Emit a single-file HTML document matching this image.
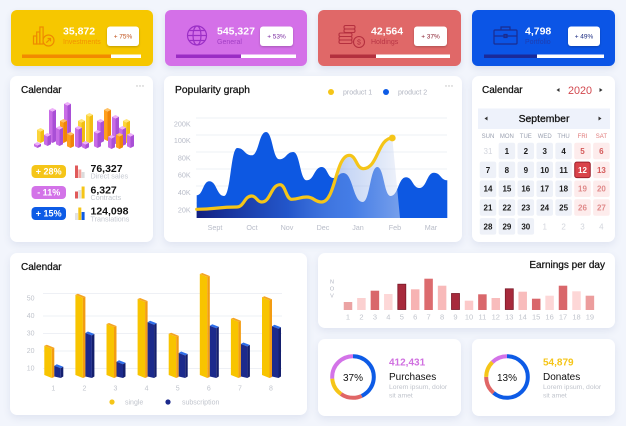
<!DOCTYPE html>
<html><head><meta charset="utf-8">
<style>
html,body{margin:0;padding:0;}
body{width:626px;height:426px;overflow:hidden;background:#f2f5fc;position:relative;font-family:"Liberation Sans",sans-serif;}
.c{position:absolute;background:#fff;border-radius:7px;box-shadow:0 3px 8px rgba(60,80,140,0.10);}
.t{position:absolute;border-radius:6px;box-shadow:0 3px 7px rgba(60,80,140,0.12);}
svg{position:absolute;left:0;top:0;}
</style></head><body>
<div class="t" style="left:11px;top:10px;width:142px;height:56px;background:#f6c700"></div>
<div class="t" style="left:165px;top:10px;width:142px;height:56px;background:#d470e8"></div>
<div class="t" style="left:318px;top:10px;width:143px;height:56px;background:#e06868"></div>
<div class="t" style="left:472px;top:10px;width:143px;height:56px;background:#0b55e6"></div>
<div class="c" style="left:10px;top:76px;width:143px;height:166px"></div>
<div class="c" style="left:164px;top:76px;width:298px;height:166px"></div>
<div class="c" style="left:472px;top:76px;width:143px;height:166px"></div>
<div class="c" style="left:10px;top:253px;width:297px;height:162px"></div>
<div class="c" style="left:318px;top:253px;width:297px;height:75px"></div>
<div class="c" style="left:318px;top:339px;width:143px;height:77px"></div>
<div class="c" style="left:472px;top:339px;width:143px;height:77px"></div>

<svg width="626" height="426" viewBox="0 0 626 426" style="font-family:'Liberation Sans',sans-serif">
<defs>
<filter id="sh" x="-30%" y="-30%" width="160%" height="180%"><feDropShadow dx="0" dy="1" stdDeviation="1" flood-color="#000" flood-opacity="0.22"/></filter>
<linearGradient id="ug" x1="196" y1="0" x2="400" y2="0" gradientUnits="userSpaceOnUse">
<stop offset="0" stop-color="#111c7c" stop-opacity="0.97"/>
<stop offset="0.45" stop-color="#2a55c2" stop-opacity="0.75"/>
<stop offset="0.75" stop-color="#86a8ea" stop-opacity="0.45"/>
<stop offset="1" stop-color="#dfe6f5" stop-opacity="0.5"/>
</linearGradient>
</defs>

<!-- ===== TOP CARDS ===== -->
<!-- card1 -->
<g fill="none" stroke="#ee8a00" stroke-width="1.2">
<rect x="33.5" y="36" width="3.2" height="8"/><rect x="36.7" y="32" width="3.2" height="12"/><rect x="39.9" y="27" width="3.2" height="17"/>
<circle cx="48.5" cy="40.5" r="5.5" fill="#f6c700"/>
<path d="M46.3,42.7 L50.5,38.5 M47.6,38.5 H50.5 V41.4"/>
</g>
<text x="63" y="34.5" font-size="10.5" font-weight="bold" fill="#fff">35,872</text>
<text x="63" y="44" font-size="7" fill="#f39200">Investments</text>
<rect x="107" y="26.5" width="32" height="19.5" rx="3" fill="#fff" filter="url(#sh)"/>
<text x="123" y="38.6" font-size="6.5" fill="#c0501a" text-anchor="middle">+ 75%</text>
<rect x="22" y="54.5" width="119" height="3.5" fill="#fff"/><rect x="22" y="54.5" width="89" height="3.5" fill="#f28a00"/>

<!-- card2 -->
<g fill="none" stroke="#9b2fc6" stroke-width="1.2">
<circle cx="197" cy="35.5" r="9.5"/><ellipse cx="197" cy="35.5" rx="4" ry="9.5"/>
<path d="M187.5,35.5 H206.5 M189.5,30.5 H204.5 M189.5,40.5 H204.5"/>
</g>
<text x="217" y="34.5" font-size="10.5" font-weight="bold" fill="#fff">545,327</text>
<text x="217" y="44" font-size="7" fill="#a23fc4">General</text>
<rect x="260" y="26.5" width="33" height="19.5" rx="3" fill="#fff" filter="url(#sh)"/>
<text x="276.5" y="38.6" font-size="6.5" fill="#7a2aa0" text-anchor="middle">+ 53%</text>
<rect x="176" y="54.5" width="120" height="3.5" fill="#fff"/><rect x="176" y="54.5" width="65" height="3.5" fill="#9a2cc4"/>

<!-- card3 -->
<g fill="none" stroke="#b5303f" stroke-width="1.1">
<rect x="344" y="25.5" width="11" height="3.5" rx="1.5"/><rect x="344" y="29" width="11" height="3.5" rx="1.5"/>
<rect x="339" y="33" width="13" height="3.5" rx="1.5"/><rect x="339" y="36.5" width="13" height="3.5" rx="1.5"/><rect x="339" y="40" width="13" height="3.5" rx="1.5"/>
<circle cx="359" cy="42" r="5.5" fill="#e06868"/>
</g>
<text x="359" y="44.6" font-size="7" fill="#b5303f" text-anchor="middle">$</text>
<text x="371" y="34.5" font-size="10.5" font-weight="bold" fill="#fff">42,564</text>
<text x="371" y="44" font-size="7" fill="#b83545">Holdings</text>
<rect x="414" y="26.5" width="33" height="19.5" rx="3" fill="#fff" filter="url(#sh)"/>
<text x="430.5" y="38.6" font-size="6.5" fill="#8a2030" text-anchor="middle">+ 37%</text>
<rect x="330" y="54.5" width="120" height="3.5" fill="#fff"/><rect x="330" y="54.5" width="46" height="3.5" fill="#b3303e"/>

<!-- card4 -->
<g fill="none" stroke="#1b2c8f" stroke-width="1.2">
<rect x="494" y="30" width="23" height="14" rx="1"/><path d="M501,30 V27 H510 V30 M494,36 H517"/>
<rect x="504" y="34.5" width="3" height="3"/>
</g>
<text x="525" y="34.5" font-size="10.5" font-weight="bold" fill="#fff">4,798</text>
<text x="525" y="44" font-size="7" fill="#1f3eb0">Portfolio</text>
<rect x="568" y="26.5" width="32" height="19.5" rx="3" fill="#fff" filter="url(#sh)"/>
<text x="584" y="38.6" font-size="6.5" fill="#1a2a80" text-anchor="middle">+ 49%</text>
<rect x="484" y="54.5" width="120" height="3.5" fill="#fff"/><rect x="484" y="54.5" width="53" height="3.5" fill="#1a2a9a"/>

<!-- ===== LEFT MIDDLE CARD ===== -->
<text x="21" y="93" font-size="10" fill="#111" stroke="#111" stroke-width="0.25">Calendar</text>
<g fill="#bbb"><circle cx="137" cy="86" r="0.7"/><circle cx="140" cy="86" r="0.7"/><circle cx="143" cy="86" r="0.7"/></g>

<!-- 3D cluster -->
<g>
<g transform="translate(64,102)"><polygon points="0,1.75 3.5,3.5 3.5,37 0,35.25" fill="#c86ce6"/><polygon points="3.5,3.5 7,1.75 7,35.25 3.5,37" fill="#a94fd6"/><polygon points="0,1.75 3.5,0 7,1.75 3.5,3.5" fill="#eeb0fa"/></g>
<g transform="translate(104,108)"><polygon points="0,1.75 3.5,3.5 3.5,33 0,31.25" fill="#ff9f1c"/><polygon points="3.5,3.5 7,1.75 7,31.25 3.5,33" fill="#f0850a"/><polygon points="0,1.75 3.5,0 7,1.75 3.5,3.5" fill="#ffc266"/></g>
<g transform="translate(37,128)"><polygon points="0,1.75 3.5,3.5 3.5,15 0,13.25" fill="#fbd43a"/><polygon points="3.5,3.5 7,1.75 7,13.25 3.5,15" fill="#f2bd12"/><polygon points="0,1.75 3.5,0 7,1.75 3.5,3.5" fill="#ffe57a"/></g>
<g transform="translate(49,108)"><polygon points="0,1.75 3.5,3.5 3.5,35 0,33.25" fill="#c86ce6"/><polygon points="3.5,3.5 7,1.75 7,33.25 3.5,35" fill="#a94fd6"/><polygon points="0,1.75 3.5,0 7,1.75 3.5,3.5" fill="#eeb0fa"/></g>
<g transform="translate(60,119)"><polygon points="0,1.75 3.5,3.5 3.5,24 0,22.25" fill="#ff9f1c"/><polygon points="3.5,3.5 7,1.75 7,22.25 3.5,24" fill="#f0850a"/><polygon points="0,1.75 3.5,0 7,1.75 3.5,3.5" fill="#ffc266"/></g>
<g transform="translate(78,119)"><polygon points="0,1.75 3.5,3.5 3.5,24 0,22.25" fill="#fbd43a"/><polygon points="3.5,3.5 7,1.75 7,22.25 3.5,24" fill="#f2bd12"/><polygon points="0,1.75 3.5,0 7,1.75 3.5,3.5" fill="#ffe57a"/></g>
<g transform="translate(86,113)"><polygon points="0,1.75 3.5,3.5 3.5,30 0,28.25" fill="#fbd43a"/><polygon points="3.5,3.5 7,1.75 7,28.25 3.5,30" fill="#f2bd12"/><polygon points="0,1.75 3.5,0 7,1.75 3.5,3.5" fill="#ffe57a"/></g>
<g transform="translate(97,119)"><polygon points="0,1.75 3.5,3.5 3.5,24 0,22.25" fill="#c86ce6"/><polygon points="3.5,3.5 7,1.75 7,22.25 3.5,24" fill="#a94fd6"/><polygon points="0,1.75 3.5,0 7,1.75 3.5,3.5" fill="#eeb0fa"/></g>
<g transform="translate(123,119)"><polygon points="0,1.75 3.5,3.5 3.5,24 0,22.25" fill="#fbd43a"/><polygon points="3.5,3.5 7,1.75 7,22.25 3.5,24" fill="#f2bd12"/><polygon points="0,1.75 3.5,0 7,1.75 3.5,3.5" fill="#ffe57a"/></g>
<g transform="translate(112,115)"><polygon points="0,1.75 3.5,3.5 3.5,29 0,27.25" fill="#c86ce6"/><polygon points="3.5,3.5 7,1.75 7,27.25 3.5,29" fill="#a94fd6"/><polygon points="0,1.75 3.5,0 7,1.75 3.5,3.5" fill="#eeb0fa"/></g>
<g transform="translate(44,133)"><polygon points="0,1.75 3.5,3.5 3.5,13 0,11.25" fill="#c86ce6"/><polygon points="3.5,3.5 7,1.75 7,11.25 3.5,13" fill="#a94fd6"/><polygon points="0,1.75 3.5,0 7,1.75 3.5,3.5" fill="#eeb0fa"/></g>
<g transform="translate(56,126)"><polygon points="0,1.75 3.5,3.5 3.5,20 0,18.25" fill="#c86ce6"/><polygon points="3.5,3.5 7,1.75 7,18.25 3.5,20" fill="#a94fd6"/><polygon points="0,1.75 3.5,0 7,1.75 3.5,3.5" fill="#eeb0fa"/></g>
<g transform="translate(119,126)"><polygon points="0,1.75 3.5,3.5 3.5,20 0,18.25" fill="#c86ce6"/><polygon points="3.5,3.5 7,1.75 7,18.25 3.5,20" fill="#a94fd6"/><polygon points="0,1.75 3.5,0 7,1.75 3.5,3.5" fill="#eeb0fa"/></g>
<g transform="translate(34,142)"><polygon points="0,1.75 3.5,3.5 3.5,6 0,4.25" fill="#c86ce6"/><polygon points="3.5,3.5 7,1.75 7,4.25 3.5,6" fill="#a94fd6"/><polygon points="0,1.75 3.5,0 7,1.75 3.5,3.5" fill="#eeb0fa"/></g>
<g transform="translate(67,132)"><polygon points="0,1.75 3.5,3.5 3.5,16 0,14.25" fill="#ff9f1c"/><polygon points="3.5,3.5 7,1.75 7,14.25 3.5,16" fill="#f0850a"/><polygon points="0,1.75 3.5,0 7,1.75 3.5,3.5" fill="#ffc266"/></g>
<g transform="translate(75,126)"><polygon points="0,1.75 3.5,3.5 3.5,22 0,20.25" fill="#c86ce6"/><polygon points="3.5,3.5 7,1.75 7,20.25 3.5,22" fill="#a94fd6"/><polygon points="0,1.75 3.5,0 7,1.75 3.5,3.5" fill="#eeb0fa"/></g>
<g transform="translate(94,130)"><polygon points="0,1.75 3.5,3.5 3.5,18 0,16.25" fill="#c86ce6"/><polygon points="3.5,3.5 7,1.75 7,16.25 3.5,18" fill="#a94fd6"/><polygon points="0,1.75 3.5,0 7,1.75 3.5,3.5" fill="#eeb0fa"/></g>
<g transform="translate(127,133)"><polygon points="0,1.75 3.5,3.5 3.5,15 0,13.25" fill="#c86ce6"/><polygon points="3.5,3.5 7,1.75 7,13.25 3.5,15" fill="#a94fd6"/><polygon points="0,1.75 3.5,0 7,1.75 3.5,3.5" fill="#eeb0fa"/></g>
<g transform="translate(82,141)"><polygon points="0,1.75 3.5,3.5 3.5,8 0,6.25" fill="#c86ce6"/><polygon points="3.5,3.5 7,1.75 7,6.25 3.5,8" fill="#a94fd6"/><polygon points="0,1.75 3.5,0 7,1.75 3.5,3.5" fill="#eeb0fa"/></g>
<g transform="translate(108,135)"><polygon points="0,1.75 3.5,3.5 3.5,14 0,12.25" fill="#c86ce6"/><polygon points="3.5,3.5 7,1.75 7,12.25 3.5,14" fill="#a94fd6"/><polygon points="0,1.75 3.5,0 7,1.75 3.5,3.5" fill="#eeb0fa"/></g>
<g transform="translate(116,133)"><polygon points="0,1.75 3.5,3.5 3.5,16 0,14.25" fill="#ff9f1c"/><polygon points="3.5,3.5 7,1.75 7,14.25 3.5,16" fill="#f0850a"/><polygon points="0,1.75 3.5,0 7,1.75 3.5,3.5" fill="#ffc266"/></g>
</g>

<!-- stats -->
<rect x="31.5" y="165" width="34.5" height="13" rx="4" fill="#f5c518"/>
<text x="48.7" y="174.6" font-size="9" font-weight="bold" fill="#fff" text-anchor="middle">+ 28%</text>
<rect x="31.5" y="186" width="34.5" height="13" rx="4" fill="#d373e8"/>
<text x="48.7" y="195.6" font-size="9" font-weight="bold" fill="#fff" text-anchor="middle">- 11%</text>
<rect x="31.5" y="207" width="34.5" height="13" rx="4" fill="#0d5be6"/>
<text x="48.7" y="216.6" font-size="9" font-weight="bold" fill="#fff" text-anchor="middle">+ 15%</text>

<rect x="75" y="165.5" width="3" height="12.5" fill="#e05a5a"/><rect x="78.3" y="169.5" width="3" height="8.5" fill="#f4a6a0"/><rect x="81.6" y="172" width="3" height="6" fill="#dcdcdc"/>
<rect x="75" y="191.5" width="3" height="7" fill="#e05a5a"/><rect x="78.3" y="190" width="3" height="8.5" fill="#e2e2e2"/><rect x="81.6" y="186.5" width="3" height="12" fill="#f5c518"/>
<rect x="75" y="213" width="3" height="7" fill="#e2e2e2"/><rect x="78.3" y="207.5" width="3" height="12.5" fill="#f5c518"/><rect x="81.6" y="212" width="3" height="8" fill="#0d5be6"/>

<text x="90.5" y="172" font-size="10.5" font-weight="bold" fill="#111">76,327</text>
<text x="90.5" y="178.6" font-size="7.2" fill="#c4c8d0">Direct sales</text>
<text x="90.5" y="193.7" font-size="10.5" font-weight="bold" fill="#111">6,327</text>
<text x="90.5" y="200.2" font-size="7.2" fill="#c4c8d0">Contracts</text>
<text x="90.5" y="214.7" font-size="10.5" font-weight="bold" fill="#111">124,098</text>
<text x="90.5" y="221.4" font-size="7.2" fill="#c4c8d0">Translations</text>

<!-- ===== POPULARITY GRAPH ===== -->
<text x="175" y="93" font-size="10.3" fill="#111" stroke="#111" stroke-width="0.25">Popularity graph</text>
<circle cx="331" cy="92" r="3" fill="#f5c518"/>
<text x="343" y="94.5" font-size="7" fill="#b0b4c0">product 1</text>
<circle cx="386" cy="92" r="3" fill="#0d5be6"/>
<text x="398" y="94.5" font-size="7" fill="#b0b4c0">product 2</text>
<g fill="#bbb"><circle cx="446" cy="86" r="0.7"/><circle cx="449" cy="86" r="0.7"/><circle cx="452" cy="86" r="0.7"/></g>

<g stroke="#eef0f5" stroke-width="1">
<line x1="196" y1="118" x2="447" y2="118"/><line x1="196" y1="135" x2="447" y2="135"/>
<line x1="196" y1="152" x2="447" y2="152"/><line x1="196" y1="169" x2="447" y2="169"/>
<line x1="196" y1="186" x2="447" y2="186"/><line x1="196" y1="203" x2="447" y2="203"/>
</g>
<g font-size="7.2" fill="#b8bcc8" text-anchor="end">
<text x="190.7" y="126.5">200K</text><text x="190.7" y="143">100K</text><text x="190.7" y="160.5">80K</text>
<text x="190.7" y="177.5">60K</text><text x="190.7" y="194.8">40K</text><text x="190.7" y="212.5">20K</text>
</g>
<g font-size="7.2" fill="#b8bcc8" text-anchor="middle">
<text x="215" y="230">Sept</text><text x="252" y="230">Oct</text><text x="287" y="230">Nov</text>
<text x="323" y="230">Dec</text><text x="358" y="230">Jan</text><text x="395" y="230">Feb</text><text x="431" y="230">Mar</text>
</g>

<path d="M196.7,218 L196.7,195.3 C203,195.3 203,181.3 209.3,181.3 C216.7,181.3 216.7,196 224,196 C230.7,196 230.7,148 237.3,148 C244.5,148 244.5,155.3 251.7,155.3 C258.8,155.3 258.8,132 266,132 C272.7,132 272.7,159.3 279.3,159.3 C286.3,159.3 286.3,152 293.3,152 C300,152 300,180.3 306.7,180.3 C314.2,180.3 314.2,167 321.7,167 C327.5,167 327.5,178 333.3,178 C338.3,178 338.3,173 343.3,173 C353,173 353,202 362.7,202 C370,202 370,167 377.3,167 C384,167 384,196 390.7,196 C398.3,196 398.3,177.3 406,177.3 C412.7,177.3 412.7,188 419.3,188 C426.7,188 426.7,172.7 434,172.7 C440.7,172.7 440.7,180.3 447.3,180.3 L447.3,218 Z" fill="#0d58e2"/>
<path d="M196.7,209.3 C216.7,209.3 216.7,207 236.7,207 C244.2,207 244.2,196 251.7,196 C256.7,196 256.7,202 261.7,202 C270.8,202 270.8,184.7 280,184.7 C285.8,184.7 285.8,199.3 291.7,199.3 C299.2,199.3 299.2,197 306.7,197 C314.2,197 314.2,202 321.7,202 C335.5,202 335.5,155.3 349.3,155.3 C356.3,155.3 356.3,168.7 363.3,168.7 C377.8,168.7 377.8,138 392.3,138 L400,218 L196.7,218 Z" fill="url(#ug)"/>
<path d="M196.7,209.3 C216.7,209.3 216.7,207 236.7,207 C244.2,207 244.2,196 251.7,196 C256.7,196 256.7,202 261.7,202 C270.8,202 270.8,184.7 280,184.7 C285.8,184.7 285.8,199.3 291.7,199.3 C299.2,199.3 299.2,197 306.7,197 C314.2,197 314.2,202 321.7,202 C335.5,202 335.5,155.3 349.3,155.3 C356.3,155.3 356.3,168.7 363.3,168.7 C377.8,168.7 377.8,138 392.3,138" fill="none" stroke="#f5c518" stroke-width="3.2" stroke-linecap="round"/>
<circle cx="392.3" cy="138" r="3.4" fill="#f5c518"/>

<!-- ===== RIGHT CALENDAR ===== -->
<text x="482" y="93" font-size="10" fill="#111" stroke="#111" stroke-width="0.25">Calendar</text>
<polygon points="556.5,90 559.5,88 559.5,92" fill="#333"/>
<text x="568" y="94" font-size="10.8" fill="#d2484e">2020</text>
<polygon points="602.5,90 599.5,88 599.5,92" fill="#333"/>
<rect x="478" y="108.5" width="132" height="20.5" fill="#eef2fb"/>
<polygon points="484.5,118.5 487.5,116.5 487.5,120.5" fill="#333"/>
<polygon points="601.5,118.5 598.5,116.5 598.5,120.5" fill="#333"/>
<text x="544" y="122" font-size="10.4" fill="#111" stroke="#111" stroke-width="0.3" text-anchor="middle">September</text>
<g font-size="6" fill="#9aa0b0" text-anchor="middle">
<text x="488" y="138">SUN</text><text x="506.9" y="138">MON</text><text x="525.8" y="138">TUE</text><text x="544.7" y="138">WED</text><text x="563.6" y="138">THU</text>
<text x="582.5" y="138" fill="#e07a7a">FRI</text><text x="601.4" y="138" fill="#e07a7a">SAT</text>
</g>
<g fill="#eef1f8">
<rect x="498.65" y="142.75" width="16.5" height="16.5" rx="2"/><rect x="517.55" y="142.75" width="16.5" height="16.5" rx="2"/><rect x="536.45" y="142.75" width="16.5" height="16.5" rx="2"/><rect x="555.35" y="142.75" width="16.5" height="16.5" rx="2"/>
<rect x="479.75" y="161.6" width="16.5" height="16.5" rx="2"/><rect x="498.65" y="161.6" width="16.5" height="16.5" rx="2"/><rect x="517.55" y="161.6" width="16.5" height="16.5" rx="2"/><rect x="536.45" y="161.6" width="16.5" height="16.5" rx="2"/><rect x="555.35" y="161.6" width="16.5" height="16.5" rx="2"/>
<rect x="479.75" y="180.45" width="16.5" height="16.5" rx="2"/><rect x="498.65" y="180.45" width="16.5" height="16.5" rx="2"/><rect x="517.55" y="180.45" width="16.5" height="16.5" rx="2"/><rect x="536.45" y="180.45" width="16.5" height="16.5" rx="2"/><rect x="555.35" y="180.45" width="16.5" height="16.5" rx="2"/>
<rect x="479.75" y="199.3" width="16.5" height="16.5" rx="2"/><rect x="498.65" y="199.3" width="16.5" height="16.5" rx="2"/><rect x="517.55" y="199.3" width="16.5" height="16.5" rx="2"/><rect x="536.45" y="199.3" width="16.5" height="16.5" rx="2"/><rect x="555.35" y="199.3" width="16.5" height="16.5" rx="2"/>
<rect x="479.75" y="218.15" width="16.5" height="16.5" rx="2"/><rect x="498.65" y="218.15" width="16.5" height="16.5" rx="2"/><rect x="517.55" y="218.15" width="16.5" height="16.5" rx="2"/>
</g>
<g fill="#fdecec">
<rect x="574.25" y="142.75" width="16.5" height="16.5" rx="2"/><rect x="593.15" y="142.75" width="16.5" height="16.5" rx="2"/>
<rect x="593.15" y="161.6" width="16.5" height="16.5" rx="2"/>
<rect x="574.25" y="180.45" width="16.5" height="16.5" rx="2"/><rect x="593.15" y="180.45" width="16.5" height="16.5" rx="2"/>
<rect x="574.25" y="199.3" width="16.5" height="16.5" rx="2"/><rect x="593.15" y="199.3" width="16.5" height="16.5" rx="2"/>
</g>
<rect x="574.75" y="162.1" width="15.5" height="15.5" rx="2" fill="#d9434a" stroke="#9c1f2b" stroke-width="1"/>
<g font-size="8" font-weight="bold" fill="#1a1a1a" text-anchor="middle">
<text x="488" y="153.9" fill="#d3d6dd" font-weight="normal">31</text><text x="506.9" y="153.9">1</text><text x="525.8" y="153.9">2</text><text x="544.7" y="153.9">3</text><text x="563.6" y="153.9">4</text><text x="582.5" y="153.9" fill="#d45a5a">5</text><text x="601.4" y="153.9" fill="#d45a5a">6</text>
<text x="488" y="172.75">7</text><text x="506.9" y="172.75">8</text><text x="525.8" y="172.75">9</text><text x="544.7" y="172.75">10</text><text x="563.6" y="172.75">11</text><text x="582.5" y="172.75" fill="#fff">12</text><text x="601.4" y="172.75" fill="#d45a5a">13</text>
<text x="488" y="191.6">14</text><text x="506.9" y="191.6">15</text><text x="525.8" y="191.6">16</text><text x="544.7" y="191.6">17</text><text x="563.6" y="191.6">18</text><text x="582.5" y="191.6" fill="#e08a8a">19</text><text x="601.4" y="191.6" fill="#e08a8a">20</text>
<text x="488" y="210.45">21</text><text x="506.9" y="210.45">22</text><text x="525.8" y="210.45">23</text><text x="544.7" y="210.45">24</text><text x="563.6" y="210.45">25</text><text x="582.5" y="210.45" fill="#e08a8a">26</text><text x="601.4" y="210.45" fill="#e08a8a">27</text>
<text x="488" y="229.3">28</text><text x="506.9" y="229.3">29</text><text x="525.8" y="229.3">30</text>
<text x="544.7" y="229.3" fill="#d3d6dd" font-weight="normal">1</text><text x="563.6" y="229.3" fill="#d3d6dd" font-weight="normal">2</text><text x="582.5" y="229.3" fill="#d3d6dd" font-weight="normal">3</text><text x="601.4" y="229.3" fill="#d3d6dd" font-weight="normal">4</text>
</g>

<!-- ===== BOTTOM LEFT BAR CHART ===== -->
<text x="21" y="270" font-size="10" fill="#111" stroke="#111" stroke-width="0.25">Calendar</text>
<g stroke="#eef0f5" stroke-width="1">
<line x1="43" y1="293.5" x2="282" y2="293.5"/><line x1="43" y1="316" x2="282" y2="316"/><line x1="43" y1="333.5" x2="282" y2="333.5"/>
<line x1="43" y1="351" x2="282" y2="351"/><line x1="43" y1="368.5" x2="282" y2="368.5"/>
</g>
<g font-size="7" fill="#c0c4cc" text-anchor="end">
<text x="34.5" y="300.5">50</text><text x="34.5" y="318.2">40</text><text x="34.5" y="335.5">30</text><text x="34.5" y="353.2">20</text><text x="34.5" y="370.5">10</text>
</g>
<g font-size="7" fill="#c0c4cc" text-anchor="middle">
<text x="53.3" y="390.5">1</text><text x="84.4" y="390.5">2</text><text x="115.5" y="390.5">3</text><text x="146.6" y="390.5">4</text>
<text x="177.7" y="390.5">5</text><text x="208.8" y="390.5">6</text><text x="239.9" y="390.5">7</text><text x="271" y="390.5">8</text>
</g>
<!-- bars: group translate(c,0) -->
<g transform="translate(53.3,0)">
<polygon points="-9,345.7 -1.5,348.7 -1.5,378 -9,375" fill="#f8c400"/><polygon points="-1.5,348.7 1,347.7 1,377 -1.5,378" fill="#f39c12"/><polygon points="-9,345.7 -6.5,344.7 1,347.7 -1.5,348.7" fill="#f5a623"/>
<polygon points="1,365.7 3.5,364.2 10,366.7 7.5,368.2" fill="#2f6fea"/><polygon points="1,365.7 7.5,368.2 7.5,378 1,376.5" fill="#1c2a8c"/><polygon points="7.5,368.2 10,366.7 10,376.5 7.5,378" fill="#141f6e"/>
</g>
<g transform="translate(84.4,0)">
<polygon points="-9,294.7 -1.5,297.7 -1.5,378 -9,375" fill="#f8c400"/><polygon points="-1.5,297.7 1,296.7 1,377 -1.5,378" fill="#f39c12"/><polygon points="-9,294.7 -6.5,293.7 1,296.7 -1.5,297.7" fill="#f5a623"/>
<polygon points="1,333 3.5,331.5 10,334 7.5,335.5" fill="#2f6fea"/><polygon points="1,333 7.5,335.5 7.5,378 1,376.5" fill="#1c2a8c"/><polygon points="7.5,335.5 10,334 10,376.5 7.5,378" fill="#141f6e"/>
</g>
<g transform="translate(115.5,0)">
<polygon points="-9,324 -1.5,327 -1.5,378 -9,375" fill="#f8c400"/><polygon points="-1.5,327 1,326 1,377 -1.5,378" fill="#f39c12"/><polygon points="-9,324 -6.5,323 1,326 -1.5,327" fill="#f5a623"/>
<polygon points="1,361.7 3.5,360.2 10,362.7 7.5,364.2" fill="#2f6fea"/><polygon points="1,361.7 7.5,364.2 7.5,378 1,376.5" fill="#1c2a8c"/><polygon points="7.5,364.2 10,362.7 10,376.5 7.5,378" fill="#141f6e"/>
</g>
<g transform="translate(146.6,0)">
<polygon points="-9,299 -1.5,302 -1.5,378 -9,375" fill="#f8c400"/><polygon points="-1.5,302 1,301 1,377 -1.5,378" fill="#f39c12"/><polygon points="-9,299 -6.5,298 1,301 -1.5,302" fill="#f5a623"/>
<polygon points="1,322.3 3.5,320.8 10,323.3 7.5,324.8" fill="#2f6fea"/><polygon points="1,322.3 7.5,324.8 7.5,378 1,376.5" fill="#1c2a8c"/><polygon points="7.5,324.8 10,323.3 10,376.5 7.5,378" fill="#141f6e"/>
</g>
<g transform="translate(177.7,0)">
<polygon points="-9,333.7 -1.5,336.7 -1.5,378 -9,375" fill="#f8c400"/><polygon points="-1.5,336.7 1,335.7 1,377 -1.5,378" fill="#f39c12"/><polygon points="-9,333.7 -6.5,332.7 1,335.7 -1.5,336.7" fill="#f5a623"/>
<polygon points="1,353 3.5,351.5 10,354 7.5,355.5" fill="#2f6fea"/><polygon points="1,353 7.5,355.5 7.5,378 1,376.5" fill="#1c2a8c"/><polygon points="7.5,355.5 10,354 10,376.5 7.5,378" fill="#141f6e"/>
</g>
<g transform="translate(208.8,0)">
<polygon points="-9,274 -1.5,277 -1.5,378 -9,375" fill="#f8c400"/><polygon points="-1.5,277 1,276 1,377 -1.5,378" fill="#f39c12"/><polygon points="-9,274 -6.5,273 1,276 -1.5,277" fill="#f5a623"/>
<polygon points="1,325.7 3.5,324.2 10,326.7 7.5,328.2" fill="#2f6fea"/><polygon points="1,325.7 7.5,328.2 7.5,378 1,376.5" fill="#1c2a8c"/><polygon points="7.5,328.2 10,326.7 10,376.5 7.5,378" fill="#141f6e"/>
</g>
<g transform="translate(239.9,0)">
<polygon points="-9,318.7 -1.5,321.7 -1.5,378 -9,375" fill="#f8c400"/><polygon points="-1.5,321.7 1,320.7 1,377 -1.5,378" fill="#f39c12"/><polygon points="-9,318.7 -6.5,317.7 1,320.7 -1.5,321.7" fill="#f5a623"/>
<polygon points="1,344 3.5,342.5 10,345 7.5,346.5" fill="#2f6fea"/><polygon points="1,344 7.5,346.5 7.5,378 1,376.5" fill="#1c2a8c"/><polygon points="7.5,346.5 10,345 10,376.5 7.5,378" fill="#141f6e"/>
</g>
<g transform="translate(271,0)">
<polygon points="-9,297.3 -1.5,300.3 -1.5,378 -9,375" fill="#f8c400"/><polygon points="-1.5,300.3 1,299.3 1,377 -1.5,378" fill="#f39c12"/><polygon points="-9,297.3 -6.5,296.3 1,299.3 -1.5,300.3" fill="#f5a623"/>
<polygon points="1,326.3 3.5,324.8 10,327.3 7.5,328.8" fill="#2f6fea"/><polygon points="1,326.3 7.5,328.8 7.5,378 1,376.5" fill="#1c2a8c"/><polygon points="7.5,328.8 10,327.3 10,376.5 7.5,378" fill="#141f6e"/>
</g>
<circle cx="112" cy="402" r="2.6" fill="#f5c518"/>
<text x="125" y="404.6" font-size="7" fill="#c0c4cc">single</text>
<circle cx="168" cy="402" r="2.6" fill="#1c2a8c"/>
<text x="182" y="404.6" font-size="7" fill="#c0c4cc">subscription</text>

<!-- ===== EARNINGS ===== -->
<text x="605" y="268" font-size="10" fill="#111" stroke="#111" stroke-width="0.25" text-anchor="end">Earnings per day</text>
<g font-size="5.5" fill="#b0b4c0" text-anchor="middle">
<text x="332" y="283.7">N</text><text x="332" y="290.5">O</text><text x="332" y="297.5">V</text>
</g>
<g>
<rect x="343.75" y="302" width="8.5" height="8" fill="#eba3a3"/>
<rect x="357.15" y="298" width="8.5" height="12" fill="#fbd0d0"/>
<rect x="370.65" y="290.7" width="8.5" height="19.3" fill="#d9676b"/>
<rect x="384.05" y="294" width="8.5" height="16" fill="#fdd7d7"/>
<rect x="397.8" y="284.2" width="8" height="25.3" fill="#a72a3c" stroke="#7a1a28" stroke-width="0.8"/>
<rect x="410.95" y="289.3" width="8.5" height="20.7" fill="#f7b3b3"/>
<rect x="424.35" y="278.7" width="8.5" height="31.3" fill="#dc6b6e"/>
<rect x="437.85" y="285.7" width="8.5" height="24.3" fill="#f8b9b9"/>
<rect x="451.5" y="293.5" width="8" height="16" fill="#a72a3c" stroke="#7a1a28" stroke-width="0.8"/>
<rect x="464.75" y="300.7" width="8.5" height="9.3" fill="#fcc9c9"/>
<rect x="478.15" y="294.3" width="8.5" height="15.7" fill="#d9676b"/>
<rect x="491.55" y="298" width="8.5" height="12" fill="#f8bcbc"/>
<rect x="505.3" y="288.8" width="8" height="20.7" fill="#a72a3c" stroke="#7a1a28" stroke-width="0.8"/>
<rect x="518.45" y="291.7" width="8.5" height="18.3" fill="#f8bcbc"/>
<rect x="531.95" y="298.7" width="8.5" height="11.3" fill="#d9676b"/>
<rect x="545.35" y="295.7" width="8.5" height="14.3" fill="#fdd7d7"/>
<rect x="558.75" y="285.7" width="8.5" height="24.3" fill="#d9676b"/>
<rect x="572.25" y="291.3" width="8.5" height="18.7" fill="#fdd7d7"/>
<rect x="585.65" y="295.7" width="8.5" height="14.3" fill="#ec9d9d"/>
</g>
<g font-size="7.5" fill="#c0c4cc" text-anchor="middle">
<text x="348" y="319.7">1</text><text x="361.4" y="319.7">2</text><text x="374.9" y="319.7">3</text><text x="388.3" y="319.7">4</text><text x="401.8" y="319.7">5</text>
<text x="415.2" y="319.7">6</text><text x="428.6" y="319.7">7</text><text x="442.1" y="319.7">8</text><text x="455.5" y="319.7">9</text><text x="469" y="319.7">10</text>
<text x="482.4" y="319.7">11</text><text x="495.8" y="319.7">12</text><text x="509.3" y="319.7">13</text><text x="522.7" y="319.7">14</text><text x="536.2" y="319.7">15</text>
<text x="549.6" y="319.7">16</text><text x="563" y="319.7">17</text><text x="576.5" y="319.7">18</text><text x="589.9" y="319.7">19</text>
</g>

<!-- ===== DONUTS ===== -->
<!-- C = 130.69 for r=20.8 -->
<g fill="none" stroke-width="4" transform="rotate(-90 353 377)">
<circle cx="353" cy="377" r="20.8" stroke="#0d5be6" stroke-dasharray="56.27 130.69" stroke-dashoffset="0"/>
<circle cx="353" cy="377" r="20.8" stroke="#e06666" stroke-dasharray="21.78 130.69" stroke-dashoffset="-56.27"/>
<circle cx="353" cy="377" r="20.8" stroke="#f5c518" stroke-dasharray="18.15 130.69" stroke-dashoffset="-78.05"/>
<circle cx="353" cy="377" r="20.8" stroke="#d373e8" stroke-dasharray="34.49 130.69" stroke-dashoffset="-96.2"/>
</g>
<text x="353" y="381" font-size="10" fill="#111" text-anchor="middle">37%</text>
<text x="389" y="365.5" font-size="10" font-weight="bold" fill="#d070e0">412,431</text>
<text x="389" y="380" font-size="10" fill="#111">Purchases</text>
<text x="389" y="389" font-size="6.8" fill="#c0c4cc">Lorem ipsum, dolor</text>
<text x="389" y="397.5" font-size="6.8" fill="#c0c4cc">sit amet</text>

<g fill="none" stroke-width="4" transform="rotate(-90 507 377)">
<circle cx="507" cy="377" r="20.8" stroke="#0d5be6" stroke-dasharray="79.87 130.69" stroke-dashoffset="0"/>
<circle cx="507" cy="377" r="20.8" stroke="#e06666" stroke-dasharray="18.15 130.69" stroke-dashoffset="-79.87"/>
<circle cx="507" cy="377" r="20.8" stroke="#f5c518" stroke-dasharray="16.34 130.69" stroke-dashoffset="-98.02"/>
<circle cx="507" cy="377" r="20.8" stroke="#d373e8" stroke-dasharray="16.33 130.69" stroke-dashoffset="-114.36"/>
</g>
<text x="507" y="381" font-size="10" fill="#111" text-anchor="middle">13%</text>
<text x="543" y="365.5" font-size="10" font-weight="bold" fill="#f5c518">54,879</text>
<text x="543" y="380" font-size="10" fill="#111">Donates</text>
<text x="543" y="389" font-size="6.8" fill="#c0c4cc">Lorem ipsum, dolor</text>
<text x="543" y="397.5" font-size="6.8" fill="#c0c4cc">sit amet</text>
</svg>
</body></html>
